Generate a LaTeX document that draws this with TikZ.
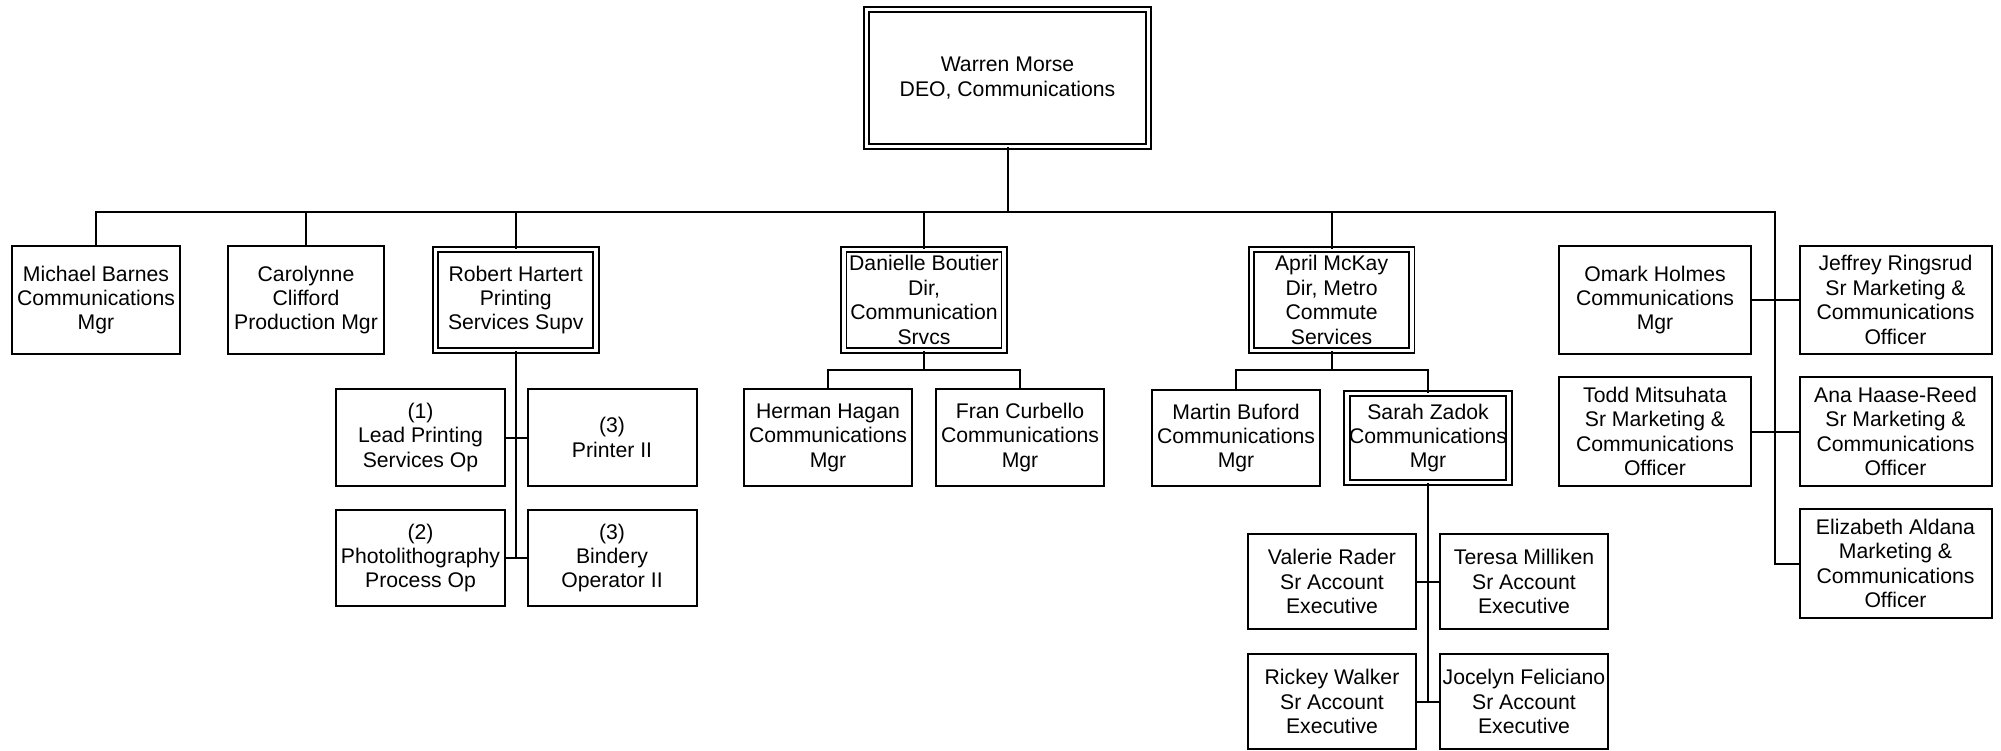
\documentclass[tikz,border=0pt]{standalone}
\usepackage{fontspec}
\setmainfont{Liberation Sans}
\begin{document}
\begin{tikzpicture}[x=0.5pt,y=-0.5pt,
  every node/.style={font=\fontsize{10.6}{12.2}\selectfont, align=center, inner sep=1pt},
  box/.style={draw, line width=1pt, rectangle},
  dbox/.style={draw, line width=0.9pt, rectangle, double, double distance=1.8pt},
  conn/.style={line width=1pt}]
\useasboundingbox (0,0) rectangle (2001,750);
% top
\node[dbox, minimum width=141pt, minimum height=68.5pt] (warren) at (1007.5,78) {Warren Morse\\DEO, Communications};
% level 1
\node[box, minimum width=84pt, minimum height=54pt] (michael) at (96,300) {Michael Barnes\\Communications\\Mgr};
\node[box, minimum width=78pt, minimum height=54pt] (carolynne) at (306,300) {Carolynne\\Clifford\\Production Mgr};
\node[dbox, minimum width=80.25pt, minimum height=50.5pt] (robert) at (515.75,300) {Robert Hartert\\Printing\\Services Supv};
\node[dbox, minimum width=80.25pt, minimum height=50.5pt] (danielle) at (924,300) {Danielle Boutier\\Dir,\\Communication\\Srvcs};
\node[dbox, minimum width=80.25pt, minimum height=50.5pt] (april) at (1331.6,300) {April McKay\\Dir, Metro\\Commute\\Services};
\node[box, minimum width=96pt, minimum height=54pt] (omark) at (1655,300) {Omark Holmes\\Communications\\Mgr};
\node[box, minimum width=96pt, minimum height=54pt] (jeffrey) at (1895.5,300) {Jeffrey Ringsrud\\Sr Marketing \&\\Communications\\Officer};
\node[box, minimum width=96pt, minimum height=54.5pt] (todd) at (1655,431.5) {Todd Mitsuhata\\Sr Marketing \&\\Communications\\Officer};
\node[box, minimum width=96pt, minimum height=54.5pt] (ana) at (1895.5,431.5) {Ana Haase-Reed\\Sr Marketing \&\\Communications\\Officer};
\node[box, minimum width=96pt, minimum height=54.5pt] (elizabeth) at (1895.5,563.5) {Elizabeth Aldana\\Marketing \&\\Communications\\Officer};
% printing
\node[box, minimum width=84.5pt, minimum height=48.5pt] (lead) at (420.5,437.5) {(1)\\Lead Printing\\Services Op};
\node[box, minimum width=84.5pt, minimum height=48.5pt] (printer) at (612,437.5) {(3)\\Printer II};
\node[box, minimum width=84.5pt, minimum height=48pt] (photo) at (420.5,558) {(2)\\Photolithography\\Process Op};
\node[box, minimum width=84.5pt, minimum height=48pt] (bindery) at (612,558) {(3)\\Bindery\\Operator II};
% communication srvcs
\node[box, minimum width=84pt, minimum height=48.5pt] (herman) at (828,437.5) {Herman Hagan\\Communications\\Mgr};
\node[box, minimum width=84pt, minimum height=48.5pt] (fran) at (1020,437.5) {Fran Curbello\\Communications\\Mgr};
% metro commute
\node[box, minimum width=84pt, minimum height=48pt] (martin) at (1236,438) {Martin Buford\\Communications\\Mgr};
\node[dbox, minimum width=80.5pt, minimum height=44.5pt] (sarah) at (1428,438) {Sarah Zadok\\Communications\\Mgr};
\node[box, minimum width=84pt, minimum height=47.5pt] (valerie) at (1332,581.5) {Valerie Rader\\Sr Account\\Executive};
\node[box, minimum width=84pt, minimum height=47.5pt] (teresa) at (1524,581.5) {Teresa Milliken\\Sr Account\\Executive};
\node[box, minimum width=84pt, minimum height=47.5pt] (rickey) at (1332,701.5) {Rickey Walker\\Sr Account\\Executive};
\node[box, minimum width=84pt, minimum height=47.5pt] (jocelyn) at (1524,701.5) {Jocelyn Feliciano\\Sr Account\\Executive};
% connectors
\coordinate (barL) at (96,212);
\coordinate (barR) at (1775,212);
\draw[conn] (warren.south) -- (warren.south |- barL);
\draw[conn] (michael.north) -- (michael.north |- barL) -- (barR) -- (elizabeth.west -| barR) -- (elizabeth.west);
\draw[conn] (carolynne.north) -- (carolynne.north |- barL);
\draw[conn] (robert.north) -- (robert.north |- barL);
\draw[conn] (danielle.north) -- (danielle.north |- barL);
\draw[conn] (april.north) -- (april.north |- barL);
\draw[conn] (omark.east) -- (jeffrey.west);
\draw[conn] (todd.east) -- (ana.west);
% printing
\draw[conn] (robert.south) -- (robert.south |- photo.east);
\draw[conn] (lead.east) -- (printer.west);
\draw[conn] (photo.east) -- (bindery.west);
% danielle
\coordinate (dbar) at (924,370);
\draw[conn] (danielle.south) -- (danielle.south |- dbar);
\draw[conn] (herman.north) -- (herman.north |- dbar) -- (fran.north |- dbar) -- (fran.north);
% april
\coordinate (abar) at (1331.6,370);
\draw[conn] (april.south) -- (april.south |- abar);
\draw[conn] (martin.north) -- (martin.north |- abar) -- (sarah.north |- abar) -- (sarah.north);
% sarah
\draw[conn] (sarah.south) -- (sarah.south |- rickey.east);
\draw[conn] (valerie.east) -- (teresa.west);
\draw[conn] (rickey.east) -- (jocelyn.west);
\end{tikzpicture}
\end{document}
